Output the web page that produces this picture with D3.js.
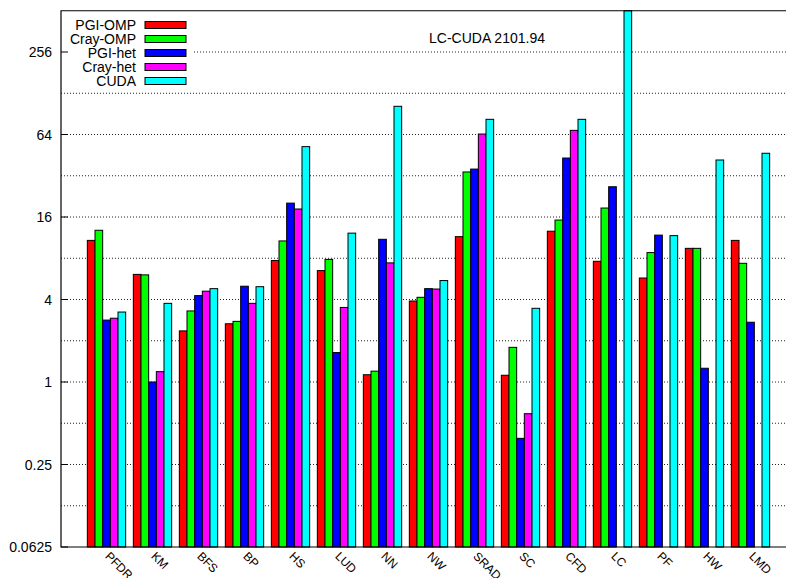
<!DOCTYPE html>
<html lang="en">
<head>
<meta charset="UTF-8">
<title>Speedup chart</title>
<script src="https://d3js.org/d3.v7.min.js"></script>
<style>
  body { margin: 0; background: #fff; }
  svg text { font-family: "Liberation Sans", Arial, Helvetica, sans-serif; fill: #000; }
</style>
</head>
<body>
<svg id="chart" width="786" height="578"></svg>
<script>
// data (log2 y axis)
const categories = ["PFDR", "KM", "BFS", "BP", "HS", "LUD", "NN", "NW", "SRAD", "SC", "CFD", "LC", "PF", "HW", "LMD"];
const seriesNames = ["PGI-OMP", "Cray-OMP", "PGI-het", "Cray-het", "CUDA"];
const seriesColors = ["#ff0000", "#00ff00", "#0000ff", "#ff00ff", "#00ffff"];

const pgiOmp  = [10.8, 6.1, 2.36, 2.66, 7.7, 6.5, 1.13, 3.9, 11.5, 1.12, 12.6, 7.6, 5.74, 9.45, 10.8];
const crayOmp = [12.8, 6.05, 3.3, 2.77, 10.7, 7.85, 1.2, 4.15, 34.1, 1.79, 15.2, 18.6, 8.8, 9.45, 7.35];
const pgiHet  = [2.83, 1.0, 4.27, 5.0, 20.2, 1.64, 11.0, 4.8, 35.8, 0.388, 43.1, 26.6, 11.8, 1.26, 2.73];
const crayHet = [2.92, 1.19, 4.6, 3.75, 18.3, 3.5, 7.4, 4.77, 64.5, 0.587, 68.6, null, null, null, null];
const cuda    = [3.24, 3.75, 4.8, 4.96, 52.2, 12.2, 102.8, 5.5, 82.6, 3.45, 82.6, 2101.94, 11.7, 41.7, 46.7];
const seriesValues = [pgiOmp, crayOmp, pgiHet, crayHet, cuda];

const yTicks = [0.0625, 0.25, 1, 4, 16, 64, 256];
const yGrid = [0.125, 0.25, 0.5, 1, 2, 4, 8, 16, 32, 64, 128, 256];
const note = "LC-CUDA 2101.94";

const svg = d3.select("#chart");
const plotLeft = 61, plotTop = 10.75, plotBottom = 547, plotRight = 786;

const y = d3.scaleLog().base(2).domain([0.0625, 512]).range([plotBottom, plotTop]).clamp(true);
const x0 = d3.scaleBand().domain(categories).range([83.5, 83.5 + 46 * categories.length]);
const x1 = d3.scaleBand().domain(seriesNames).range([0, x0.bandwidth()]).paddingOuter(0.5);

// grid
const legendRight = 194;
svg.append("g").selectAll("line").data(yGrid).join("line")
  .attr("x1", d => d === 256 ? legendRight : plotLeft)
  .attr("x2", plotRight)
  .attr("y1", d => y(d)).attr("y2", d => y(d))
  .attr("stroke", "#222").attr("stroke-width", 1)
  .attr("stroke-dasharray", "1,2");

// bars
const barData = [];
seriesNames.forEach((s, j) => {
  categories.forEach((c, i) => {
    const v = seriesValues[j][i];
    if (v != null) barData.push({ s, c, v, color: seriesColors[j] });
  });
});
svg.append("g").selectAll("rect").data(barData).join("rect")
  .attr("x", d => x0(d.c) + x1(d.s))
  .attr("y", d => y(d.v))
  .attr("width", x1.bandwidth())
  .attr("height", d => plotBottom - y(d.v))
  .attr("fill", d => d.color)
  .attr("stroke", "#000").attr("stroke-width", 1);

// frame
svg.append("path")
  .attr("d", `M${plotRight},${plotTop}H${plotLeft}V${plotBottom}H${plotRight}`)
  .attr("fill", "none").attr("stroke", "#000").attr("stroke-width", 1.2);

// y axis ticks + labels
const yAxis = svg.append("g");
yAxis.selectAll("line").data(yTicks).join("line")
  .attr("x1", plotLeft).attr("x2", plotLeft + 7)
  .attr("y1", d => y(d)).attr("y2", d => y(d))
  .attr("stroke", "#000");
yAxis.selectAll("text").data(yTicks).join("text")
  .attr("x", 52).attr("y", d => y(d) + 5)
  .attr("text-anchor", "end").attr("font-size", 14)
  .text(d => d);

// x labels
svg.append("g").selectAll("text").data(categories).join("text")
  .attr("transform", d => `translate(${x0(d) + x0.bandwidth() / 2 - 2},${plotBottom + 10}) rotate(45)`)
  .attr("font-size", 12)
  .text(d => d);

// note
svg.append("text").attr("x", 429).attr("y", 43).attr("font-size", 14).text(note);

// legend
const legend = svg.append("g");
seriesNames.forEach((s, j) => {
  const cy = 25 + j * 14;
  legend.append("text").attr("x", 136).attr("y", cy + 5)
    .attr("text-anchor", "end").attr("font-size", 14).text(s);
  legend.append("rect").attr("x", 145).attr("y", cy - 3.5)
    .attr("width", 41).attr("height", 7)
    .attr("fill", seriesColors[j]).attr("stroke", "#000");
});
</script>
</body>
</html>
